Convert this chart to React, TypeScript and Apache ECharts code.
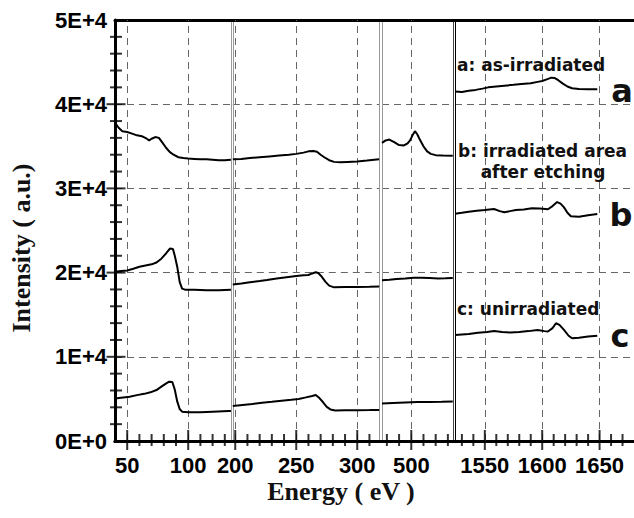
import React, { useEffect, useRef } from 'react';
import * as echarts from 'echarts';

type P = [number, number][];

// ---- axis ranges and tick values (eV) ----
const p1Range = [40, 135];
const p2Range = [198, 318];
const p3Range = [476, 534];
const p4Range = [1524, 1680];

const p1Major = [50, 100];
const p2Major = [200, 250, 300];
const p3Major = [500];
const p4Major = [1550, 1600, 1650];

const p1Minor = [60, 70, 80, 90, 110, 120, 130];
const p2Minor = [210, 220, 230, 240, 260, 270, 280, 290, 310];
const p3Minor = [480, 490, 510, 520, 530];
const p4Minor = [1530, 1540, 1560, 1570, 1580, 1590, 1610, 1620, 1630, 1640, 1660, 1670];

const yMax = 50000;
const yInterval = 10000;
const yMajorTicks = [10000, 20000, 30000, 40000];
const yMinorTicks = [2000, 4000, 6000, 8000, 12000, 14000, 16000, 18000, 22000, 24000, 26000, 28000, 32000, 34000, 36000, 38000, 42000, 44000, 46000, 48000];

// ---- curve a: as-irradiated ----
const aP1: P = [[40,37800],[43,37200],[46,36800],[50,36700],[54,36500],[58,36300],[62,36200],[66,35900],[68,35700],[70,35900],[73,36100],[76,36000],[79,35400],[82,34800],[85,34300],[88,34000],[92,33700],[96,33600],[100,33550],[105,33500],[110,33450],[115,33450],[120,33400],[125,33350],[130,33350],[135,33400]];
const aP2: P = [[198,33450],[205,33500],[212,33600],[220,33700],[228,33800],[236,33900],[244,34000],[250,34100],[256,34250],[260,34400],[264,34450],[267,34350],[270,34000],[273,33700],[277,33350],[281,33150],[286,33100],[292,33150],[300,33200],[308,33300],[318,33450]];
const aP3: P = [[476,35400],[479,35700],[482,35800],[486,35500],[490,35150],[494,35100],[497,35350],[499,35700],[501,36300],[503,36800],[505,36400],[507,35800],[510,35000],[513,34400],[516,34100],[520,33950],[526,33900],[534,33880]];
const aP4: P = [[1524,41500],[1530,41450],[1536,41600],[1542,41700],[1548,41850],[1553,42000],[1560,42100],[1567,42200],[1575,42300],[1582,42400],[1590,42500],[1596,42650],[1600,42750],[1604,42950],[1608,43150],[1611,43100],[1614,42850],[1618,42450],[1622,42100],[1626,41900],[1632,41800],[1640,41780],[1648,41770]];

// ---- curve b: irradiated area after etching ----
const bP1: P = [[40,20100],[45,20200],[50,20250],[55,20450],[60,20700],[65,20850],[70,20980],[74,21200],[78,21650],[82,22300],[85,22850],[87.5,22800],[89,22000],[91,20700],[93,18900],[95,18100],[98,17950],[105,17950],[115,17900],[125,17900],[135,17950]];
const bP2: P = [[198,18600],[205,18700],[212,18850],[220,19000],[226,19120],[234,19300],[242,19450],[250,19600],[256,19680],[260,19720],[263,19900],[266,20040],[268,19950],[271,19500],[274,18900],[277,18450],[281,18250],[290,18280],[300,18300],[310,18320],[318,18350]];
const bP3: P = [[476,19100],[482,19150],[488,19250],[495,19300],[502,19400],[508,19380],[515,19350],[522,19300],[528,19320],[534,19350]];
const bP4: P = [[1524,27000],[1530,27100],[1536,27230],[1543,27350],[1550,27430],[1558,27550],[1563,27300],[1567,27160],[1572,27300],[1577,27430],[1584,27500],[1591,27640],[1598,27600],[1605,27520],[1609,27900],[1613,28380],[1616,28200],[1619,27750],[1622,27100],[1625,26700],[1632,26640],[1640,26800],[1648,26960]];

// ---- curve c: unirradiated ----
const cP1: P = [[40,5050],[45,5150],[52,5260],[58,5450],[64,5600],[69,5780],[74,6050],[78,6450],[82,6850],[84.5,7050],[87,7000],[89,6100],[91,4700],[93,3800],[95,3480],[100,3420],[110,3410],[120,3480],[133,3560],[135,3560]];
const cP2: P = [[198,4160],[206,4280],[214,4400],[222,4530],[230,4650],[238,4780],[246,4900],[252,5000],[258,5180],[263,5350],[266,5460],[269,5100],[272,4600],[275,4050],[278,3750],[282,3620],[290,3640],[300,3660],[310,3670],[318,3690]];
const cP3: P = [[476,4450],[485,4520],[495,4570],[505,4620],[515,4640],[525,4660],[534,4680]];
const cP4: P = [[1524,12590],[1530,12650],[1536,12710],[1544,12850],[1552,12950],[1558,13060],[1565,12950],[1572,12880],[1580,12950],[1588,13050],[1596,13180],[1602,13050],[1605,13000],[1609,13400],[1612,13980],[1615,13800],[1619,13200],[1623,12500],[1626,12200],[1632,12270],[1640,12400],[1648,12510]];

const labelA = 'a: as-irradiated';
const labelB1 = 'b: irradiated area';
const labelB2 = 'after etching';
const labelC = 'c: unirradiated';
const xName = 'Energy ( eV )';
const yName = 'Intensity ( a.u.)';

const SANS = '"Liberation Sans", Arial, sans-serif';
const SERIF = '"Liberation Serif", "Times New Roman", serif';
const DJ = '"DejaVu Sans", sans-serif';

export default function App() {
  const ref = useRef<HTMLDivElement>(null);
  useEffect(() => {
    if (!ref.current) return;
    const chart = echarts.init(ref.current, undefined, { renderer: 'svg' });

    const ranges = [p1Range, p2Range, p3Range, p4Range];
    const majors = [p1Major, p2Major, p3Major, p4Major];
    const minors = [p1Minor, p2Minor, p3Minor, p4Minor];
    const curves = [[aP1, bP1, cP1], [aP2, bP2, cP2], [aP3, bP3, cP3], [aP4, bP4, cP4]];
    const PX = 1.22;
    const lefts = [115, 232.8, 382, 455];
    const TOP = 20;
    const H = 421;
    const leftColors = ['#000', '#999', '#999', '#000'];
    const leftWidths = [3, 1, 1, 1];
    const rightColors = ['#999', '#999', '#444', '#000'];

    const grid: any[] = [{ left: 115, top: TOP, width: 540, height: H }];
    const thick = { show: true, onZero: false, lineStyle: { color: '#000', width: 3 } };
    const xAxis: any[] = [
      { gridIndex: 0, type: 'value', min: 0, max: 1, position: 'bottom', axisLine: thick, axisTick: { show: false }, axisLabel: { show: false }, splitLine: { show: false } },
      { gridIndex: 0, type: 'value', min: 0, max: 1, position: 'top', axisLine: thick, axisTick: { show: false }, axisLabel: { show: false }, splitLine: { show: false } },
    ];
    const yAxis: any[] = [{ gridIndex: 0, type: 'value', min: 0, max: 1, show: false }];
    const series: any[] = [];
    const dash = { type: [7, 5], color: '#666', width: 1 };

    const tickSeries = (xi: number, yi: number, data: P, w: number, h: number, off: number[]) => ({
      type: 'scatter', xAxisIndex: xi, yAxisIndex: yi, data,
      symbol: 'rect', symbolSize: [w, h], symbolOffset: off, clip: false,
      itemStyle: { color: '#000' }, silent: true, emphasis: { disabled: true }, z: 4,
    });

    for (let i = 0; i < 4; i++) {
      const [mn, mx] = ranges[i];
      grid.push({ left: lefts[i], top: TOP, width: (mx - mn) * PX, height: H });
      const g = i + 1;
      xAxis.push({
        gridIndex: g, type: 'value', min: mn, max: mx, position: 'bottom',
        axisLine: thick,
        axisTick: { show: false },
        axisLabel: {
          show: true, customValues: majors[i], margin: 13, fontSize: 22, fontWeight: 'bold', fontFamily: SANS, color: '#000',
          formatter: (v: number) => String(v),
        },
        splitLine: { show: false },
      });
      const main = i === 0;
      yAxis.push({
        gridIndex: g, type: 'value', min: 0, max: yMax, interval: yInterval, position: 'left',
        axisLine: { show: true, onZero: false, lineStyle: { color: leftColors[i], width: leftWidths[i] } },
        axisTick: { show: false },
        axisLabel: main ? {
          show: true, margin: 8, fontSize: 22, fontWeight: 'bold', fontFamily: SANS, color: '#000',
          formatter: (v: number) => (v === 0 ? '0E+0' : `${v / 10000}E+4`),
        } : { show: false },
        splitLine: { show: true, lineStyle: dash },
      });
      yAxis.push({
        gridIndex: g, type: 'value', min: 0, max: yMax, interval: yInterval, position: 'right',
        axisLine: { show: i < 3, onZero: false, lineStyle: { color: rightColors[i], width: 1 } },
        axisTick: { show: false }, axisLabel: { show: false }, splitLine: { show: false },
      });
      const xIdx = 2 + i;
      const yIdx = 1 + 2 * i;
      curves[i].forEach((data, k) => {
        const s: any = {
          type: 'line', xAxisIndex: xIdx, yAxisIndex: yIdx, data,
          symbol: 'none', showSymbol: false, silent: true,
          lineStyle: { color: '#000', width: 2 }, itemStyle: { color: '#000' },
          emphasis: { disabled: true }, z: 3,
        };
        if (k === 2) {
          s.markLine = {
            silent: true, symbol: ['none', 'none'], label: { show: false },
            lineStyle: dash, emphasis: { disabled: true }, z: 1,
            data: majors[i].map((v) => ({ xAxis: v })),
          };
        }
        series.push(s);
      });
      // x-axis tick marks (inside, pointing up)
      series.push(tickSeries(xIdx, yIdx, minors[i].map((v) => [v, 0] as [number, number]), 2, 12, [0, -1]));
      series.push(tickSeries(xIdx, yIdx, majors[i].map((v) => [v, 0] as [number, number]), 2, 20, [0, -1]));
    }
    // y-axis tick marks (inside, pointing right)
    series.push(tickSeries(2, 1, yMinorTicks.map((v) => [p1Range[0], v] as [number, number]), 12, 2, [1, 0]));
    series.push(tickSeries(2, 1, yMajorTicks.map((v) => [p1Range[0], v] as [number, number]), 19, 2, [1, 0]));

    const txt = (text: string, x: number, y: number, size: number, align: string, family = DJ, rotation = 0) => ({
      type: 'text', x, y, rotation, z: 100,
      style: {
        text, fill: '#111', font: `bold ${size}px ${family}`,
        align, verticalAlign: 'middle', textAlign: align, textVerticalAlign: 'middle',
      },
    });

    chart.setOption({
      animation: false,
      backgroundColor: '#fff',
      grid, xAxis, yAxis, series,
      graphic: [
        txt(labelA, 457, 65, 17, 'left'),
        txt(labelB1, 458, 151, 17, 'left'),
        txt(labelB2, 543, 172, 17, 'center'),
        txt(labelC, 457, 309, 17, 'left'),
        txt('a', 622, 91, 32, 'center'),
        txt('b', 621, 215, 32, 'center'),
        txt('c', 620, 336, 32, 'center'),
        txt(xName, 341, 491, 26, 'center', SERIF),
        txt(yName, 21, 248, 26, 'center', SERIF, Math.PI / 2),
      ],
    });
    return () => chart.dispose();
  }, []);
  return <div ref={ref} style={{ position: 'fixed', left: 0, top: 0, width: 634, height: 518, background: '#fff' }} />;
}
